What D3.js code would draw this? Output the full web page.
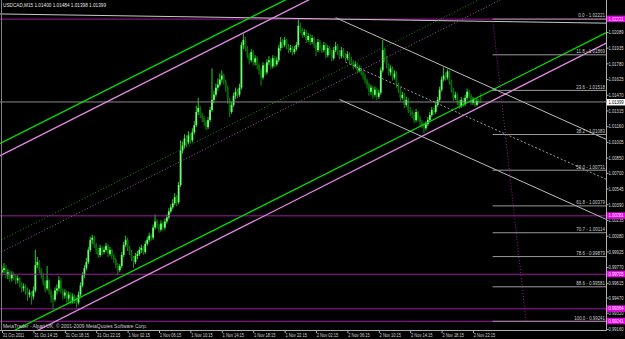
<!DOCTYPE html>
<html>
<head>
<meta charset="utf-8">
<script src="https://cdnjs.cloudflare.com/ajax/libs/d3/7.8.5/d3.min.js"></script>
<style>
  html, body { margin: 0; padding: 0; background: #000; }
  svg { display: block; }
  text { font-family: "Liberation Sans", Arial, sans-serif; }
</style>
</head>
<body>
<div class="chart"></div>
<script>
// USDCAD M15, prices kept in pips above basePrice
const symbolTitle = "USDCAD,M15";
const basePrice = 0.99;
const firstOpen = 72;
const closePips = [74,76,69,72,66,70,
  68,64,66,60,56,58,54,50,52,48,
  54,79,82,74,
  69,62,56,64,53,47,
  45,54,
  56,64,54,49,52,46,50,44,48,45,42,
  50,59,69,76,82,
  94,104,106,99,94,
  89,96,92,94,98,90,94,88,
  84,79,74,78,
  89,99,104,96,
  92,86,82,88,
  90,94,96,92,100,
  104,108,106,116,122,
  118,114,120,116,122,126,
  132,136,140,146,141,
  158,
  192,
  197,204,200,207,202,210,
  217,230,234,227,224,
  220,215,222,232,
  242,247,254,
  257,262,266,260,254,
  242,230,237,
  246,250,247,254,
  296,301,293,
  286,281,289,279,283,276,
  271,264,276,269,279,
  281,275,283,277,281,
  293,299,296,301,295,
  291,293,289,292,296,
  315,
  311,306,309,301,305,299,303,
  296,291,299,293,
  291,296,286,293,289,283,291,295,
  289,285,291,286,283,287,281,
  279,275,277,271,273,269,266,
  261,257,250,254,247,252,245,249,
  271,291,283,
  276,269,273,264,268,257,
  252,244,247,237,242,232,230,
  227,222,230,224,220,217,
  214,218,222,
  227,232,230,237,242,
  252,262,266,264,270,260,
  252,244,247,
  240,236,242,238,244,
  250,246,
  239,242,237,241,240,239.9];

const highPips = [78,81,79,75,74,73,
  72,70,69,67,62,61,60,57,55,53,
  58,94,87,84,
  76,71,64,78,65,55,
  50,57,
  60,68,66,56,55,54,53,52,51,50,47,
  53,62,72,79,86,
  97,107,109,108,101,
  96,99,98,97,101,100,97,95,
  90,86,81,80,
  92,102,108,106,
  98,94,88,91,
  93,97,99,98,103,
  107,111,110,119,129,
  124,120,123,122,125,129,
  135,139,144,150,148,
  161,
  202,
  201,208,207,211,209,214,
  221,236,244,236,229,
  226,222,225,235,
  273,251,258,
  263,268,271,268,262,
  256,244,240,
  249,254,253,258,
  299,307,304,
  295,288,292,291,286,285,
  278,273,279,278,282,
  285,283,286,285,284,
  296,304,302,304,302,
  297,296,295,295,299,
  322,
  318,313,312,311,308,307,306,
  304,298,302,301,
  296,299,298,296,295,291,294,299,
  297,291,294,293,288,290,289,
  284,281,280,279,276,275,271,
  268,263,259,257,256,255,254,252,
  274,301,293,
  285,278,276,275,271,270,
  259,254,250,249,245,244,235,
  232,229,233,231,226,222,
  219,221,225,
  230,235,234,240,245,
  255,265,274,269,272,271,
  262,254,250,
  249,242,245,244,247,
  253,252,
  248,245,244,244,243,248.4];

const lowPips = [68,71,66,65,62,63,
  64,60,61,57,52,53,50,44,47,40,
  45,52,76,71,
  66,59,52,54,50,42,
  35,43,
  50,53,51,45,46,42,43,40,41,41,37,
  40,48,57,66,74,
  80,92,100,96,90,
  86,87,89,90,92,87,88,85,
  81,76,69,72,
  76,87,97,93,
  89,83,76,80,
  85,88,91,89,90,
  98,102,103,104,114,
  115,111,112,113,114,120,
  124,130,134,138,137,
  139,
  156,
  189,194,196,198,199,200,
  208,215,227,224,220,
  216,212,213,220,
  230,239,245,
  251,255,259,257,250,
  238,225,228,
  235,243,244,245,
  252,292,290,
  283,277,279,276,276,272,
  267,256,262,266,267,
  276,272,273,274,275,
  279,290,293,294,292,
  288,289,286,287,290,
  294,
  308,303,304,298,299,296,297,
  293,285,289,290,
  288,289,283,284,286,280,281,289,
  286,282,283,283,280,281,278,
  276,272,273,268,269,266,262,
  258,253,246,247,243,245,242,243,
  247,269,279,
  273,266,266,261,262,254,
  249,241,242,234,235,229,226,
  224,219,220,221,216,214,
  209,212,216,
  220,225,227,228,235,
  240,250,260,261,262,257,
  249,241,242,
  237,233,234,235,236,
  242,243,
  237,237,235,236,238,239.8];

const timeLabels = ["31 Oct 2011","31 Oct 14:15","31 Oct 18:15","31 Oct 22:15",
  "1 Nov 02:15","1 Nov 06:15","1 Nov 10:15","1 Nov 14:15","1 Nov 18:15","1 Nov 22:15",
  "2 Nov 02:15","2 Nov 06:15","2 Nov 10:15","2 Nov 14:15","2 Nov 18:15","2 Nov 22:15"];
const barsPerLabel = 16;

const priceTicks = [1.02089,1.01935,1.01780,1.01625,1.01470,1.01315,1.01160,1.01005,
  1.00850,1.00700,1.00545,1.00390,1.00235,1.00080,0.99925,0.99770,0.99615,0.99470,
  0.99320,0.99160];

const hLinePrices = [1.02221, 1.00281, 0.99705, 0.99364, 0.99241];
const bidPrice = 1.01399;

const fibLevels = ["0.0","11.8","23.6","38.2","50.0","61.8","70.7","78.6","88.6","100.0"];
const fibPrices = [1.02221,1.01869,1.01518,1.01083,1.00731,1.00379,1.00114,0.99879,0.99581,0.99241];
const fibAnchors = [[250, 1.02221], [267, 0.99241]];

// trend objects as (bar, price) anchors
const greenLower = [[27, 0.99347], [244, 1.01460]];
const greenWidth = 0.01915;
const pinkLower = [[39, 0.99350], [244, 1.01354]];
const pinkWidth = 0.01909;
const grayUpper = [[170, 1.02230], [244, 1.01586]];
const grayOffsets = [0, 0.00394, 0.00789];
const grayStartBars = [170, 175, 172];
const topLine = [[-1, 1.02267], [244, 1.02195]];

const copyright = "MetaTrader - Alpari UK, \u00a9 2001-2009 MetaQuotes Software Corp.";

// ---------------------------------------------------------------
const W = 625, H = 339;
const plotRight = 606.5, plotBottom = 330.5;

const svg = d3.select(".chart").append("svg")
  .attr("width", W).attr("height", H)
  .style("background", "#000");

const x = d3.scaleLinear().domain([0, 244]).range([2, 480.85]);
const y = d3.scaleLinear().domain([0.99160, 1.02089]).range([329, 32]);

const toPrice = p => basePrice + p / 10000;
const fmt = d3.format(".5f");

const bars = closePips.map((c, i) => ({
  i,
  o: toPrice(i === 0 ? firstOpen : closePips[i - 1]),
  c: toPrice(c),
  h: toPrice(highPips[i]),
  l: toPrice(lowPips[i])
}));

svg.append("defs").append("clipPath").attr("id", "plot")
  .append("rect").attr("x", 0).attr("y", 0)
  .attr("width", plotRight).attr("height", plotBottom);

const plot = svg.append("g").attr("clip-path", "url(#plot)");

// candles
const candle = plot.append("g").selectAll("g").data(bars).join("g");
candle.append("line")
  .attr("x1", d => x(d.i)).attr("x2", d => x(d.i))
  .attr("y1", d => y(d.h)).attr("y2", d => y(d.l))
  .attr("stroke", d => d.c >= d.o ? "#22d022" : "#0f8f0f")
  .attr("stroke-width", 1);
candle.append("rect")
  .attr("x", d => x(d.i) - 0.9)
  .attr("width", 1.8)
  .attr("y", d => y(Math.max(d.o, d.c)))
  .attr("height", d => Math.max(1, Math.abs(y(d.o) - y(d.c))))
  .attr("fill", d => d.c >= d.o ? "#6cff6c" : "#0a6a0a");

// horizontal lines
plot.append("g").selectAll("line").data(hLinePrices).join("line")
  .attr("x1", 0).attr("x2", plotRight)
  .attr("y1", d => y(d) + 0.5).attr("y2", d => y(d) + 0.5)
  .attr("stroke", "#a01aa0").attr("stroke-width", 1);

plot.append("line")
  .attr("x1", 0).attr("x2", plotRight)
  .attr("y1", y(bidPrice)).attr("y2", y(bidPrice))
  .attr("stroke", "#8a8a8a").attr("stroke-width", 1);

// line through two anchors, drawn from x0 to x1 in pixels
function trend(anchors, shift, x0, x1, color, dash, width) {
  const [a, b] = anchors;
  const ax = x(a[0]), ay = y(a[1] + shift), bx = x(b[0]), by = y(b[1] + shift);
  const m = (by - ay) / (bx - ax);
  plot.append("line")
    .attr("x1", x0).attr("y1", ay + m * (x0 - ax))
    .attr("x2", x1).attr("y2", ay + m * (x1 - ax))
    .attr("stroke", color)
    .attr("stroke-width", width || 1)
    .attr("stroke-dasharray", dash || null);
}

// top sloping line
trend(topLine, 0, 0, plotRight, "#c8c8c8", null, 1);

// green channel
trend(greenLower, 0, -20, 640, "#00e000", null, 1.3);
trend(greenLower, greenWidth, -20, 640, "#00e000", null, 1.3);
trend(greenLower, greenWidth / 2, -20, 640, "#1c8a1c", "1,2", 1);
// pink channel
trend(pinkLower, 0, -20, 640, "#e88ae8", null, 1.3);
trend(pinkLower, pinkWidth, -20, 640, "#e88ae8", null, 1.3);
trend(pinkLower, pinkWidth / 2, -20, 640, "#a856a8", "1,2", 1);

// gray descending channel
grayOffsets.forEach((off, k) => {
  trend(grayUpper, -off, x(grayStartBars[k]), 640,
    k === 1 ? "#9a9a9a" : "#bdbdbd", k === 1 ? "2,2" : null, 1);
});

// fibonacci
const fibX0 = x(fibAnchors[0][0]);
plot.append("g").selectAll("line").data(fibPrices).join("line")
  .attr("x1", fibX0).attr("x2", plotRight)
  .attr("y1", d => y(d) + 0.5).attr("y2", d => y(d) + 0.5)
  .attr("stroke", "#9a9a9a").attr("stroke-width", 1);
plot.append("line")
  .attr("x1", x(fibAnchors[0][0])).attr("y1", y(fibAnchors[0][1]))
  .attr("x2", x(fibAnchors[1][0])).attr("y2", y(fibAnchors[1][1]))
  .attr("stroke", "#a01aa0").attr("stroke-dasharray", "1,2");
plot.append("g").selectAll("text").data(fibPrices).join("text")
  .attr("x", plotRight - 1.5).attr("y", d => y(d) - 1.2)
  .attr("text-anchor", "end")
  .attr("fill", "#cfcfcf")
  .style("font-size", "6px")
  .attr("textLength", (d, i) => (fibLevels[i] + " - " + fmt(d)).length * 2.05)
  .attr("lengthAdjust", "spacingAndGlyphs")
  .text((d, i) => fibLevels[i] + " - " + fmt(d));

// frame
svg.append("line").attr("x1", plotRight).attr("x2", plotRight)
  .attr("y1", 0).attr("y2", plotBottom).attr("stroke", "#b0b0b0");
svg.append("line").attr("x1", 0).attr("x2", plotRight)
  .attr("y1", plotBottom).attr("y2", plotBottom).attr("stroke", "#b0b0b0");
svg.append("line").attr("x1", 1.5).attr("x2", 1.5)
  .attr("y1", 0).attr("y2", plotBottom).attr("stroke", "#808080");

// price axis
const yAxis = d3.axisRight(y).tickValues(priceTicks).tickSize(2).tickFormat(fmt);
const gy = svg.append("g").attr("transform", `translate(${plotRight},0)`).call(yAxis);
gy.select(".domain").remove();
gy.selectAll(".tick line").attr("stroke", "#b0b0b0");
gy.selectAll(".tick text")
  .attr("x", 2).attr("fill", "#dcdcdc")
  .style("font-size", "5.5px")
  .attr("textLength", 15).attr("lengthAdjust", "spacingAndGlyphs");

// marker boxes on the price axis
const markers = hLinePrices.map(v => ({ v, bg: "#e600e6", fg: "#ffffff" }))
  .concat([{ v: bidPrice, bg: "#ffffff", fg: "#000000" }]);
const mk = svg.append("g").selectAll("g").data(markers).join("g")
  .attr("transform", d => `translate(${plotRight + 0.5},${y(d.v)})`);
mk.append("rect").attr("x", 0).attr("y", -3).attr("width", 18).attr("height", 6.5)
  .attr("fill", d => d.bg);
mk.append("text").attr("x", 1.5).attr("y", 2.1)
  .attr("fill", d => d.fg).style("font-size", "5.5px")
  .attr("textLength", 15).attr("lengthAdjust", "spacingAndGlyphs")
  .text(d => fmt(d.v));

// time axis
const xAxis = d3.axisBottom(x)
  .tickValues(timeLabels.map((d, i) => i * barsPerLabel))
  .tickSize(2.5)
  .tickFormat((d, i) => timeLabels[i]);
const gx = svg.append("g").attr("transform", `translate(0,${plotBottom})`).call(xAxis);
gx.select(".domain").remove();
gx.selectAll(".tick line").attr("stroke", "#b0b0b0");
gx.selectAll(".tick text")
  .attr("text-anchor", "start").attr("x", 0.3).attr("y", 2).attr("dy", "0.71em")
  .attr("fill", "#d8d8d8")
  .style("font-size", "6px")
  .attr("textLength", (d, i) => timeLabels[i].length * 1.95)
  .attr("lengthAdjust", "spacingAndGlyphs");

// header and footer text
const last = bars[bars.length - 1];
const header = `${symbolTitle}  ${fmt(last.o)} ${fmt(last.h)} ${fmt(last.l)} ${fmt(last.c)}`;
svg.append("text").attr("x", 3).attr("y", 7.2)
  .attr("fill", "#e6e6e6").style("font-size", "6px")
  .attr("textLength", 103).attr("lengthAdjust", "spacingAndGlyphs")
  .text(header);
svg.append("text").attr("x", 3).attr("y", 328)
  .attr("fill", "#cfcfcf").style("font-size", "6px")
  .attr("textLength", 144).attr("lengthAdjust", "spacingAndGlyphs")
  .text(copyright);
</script>
</body>
</html>
